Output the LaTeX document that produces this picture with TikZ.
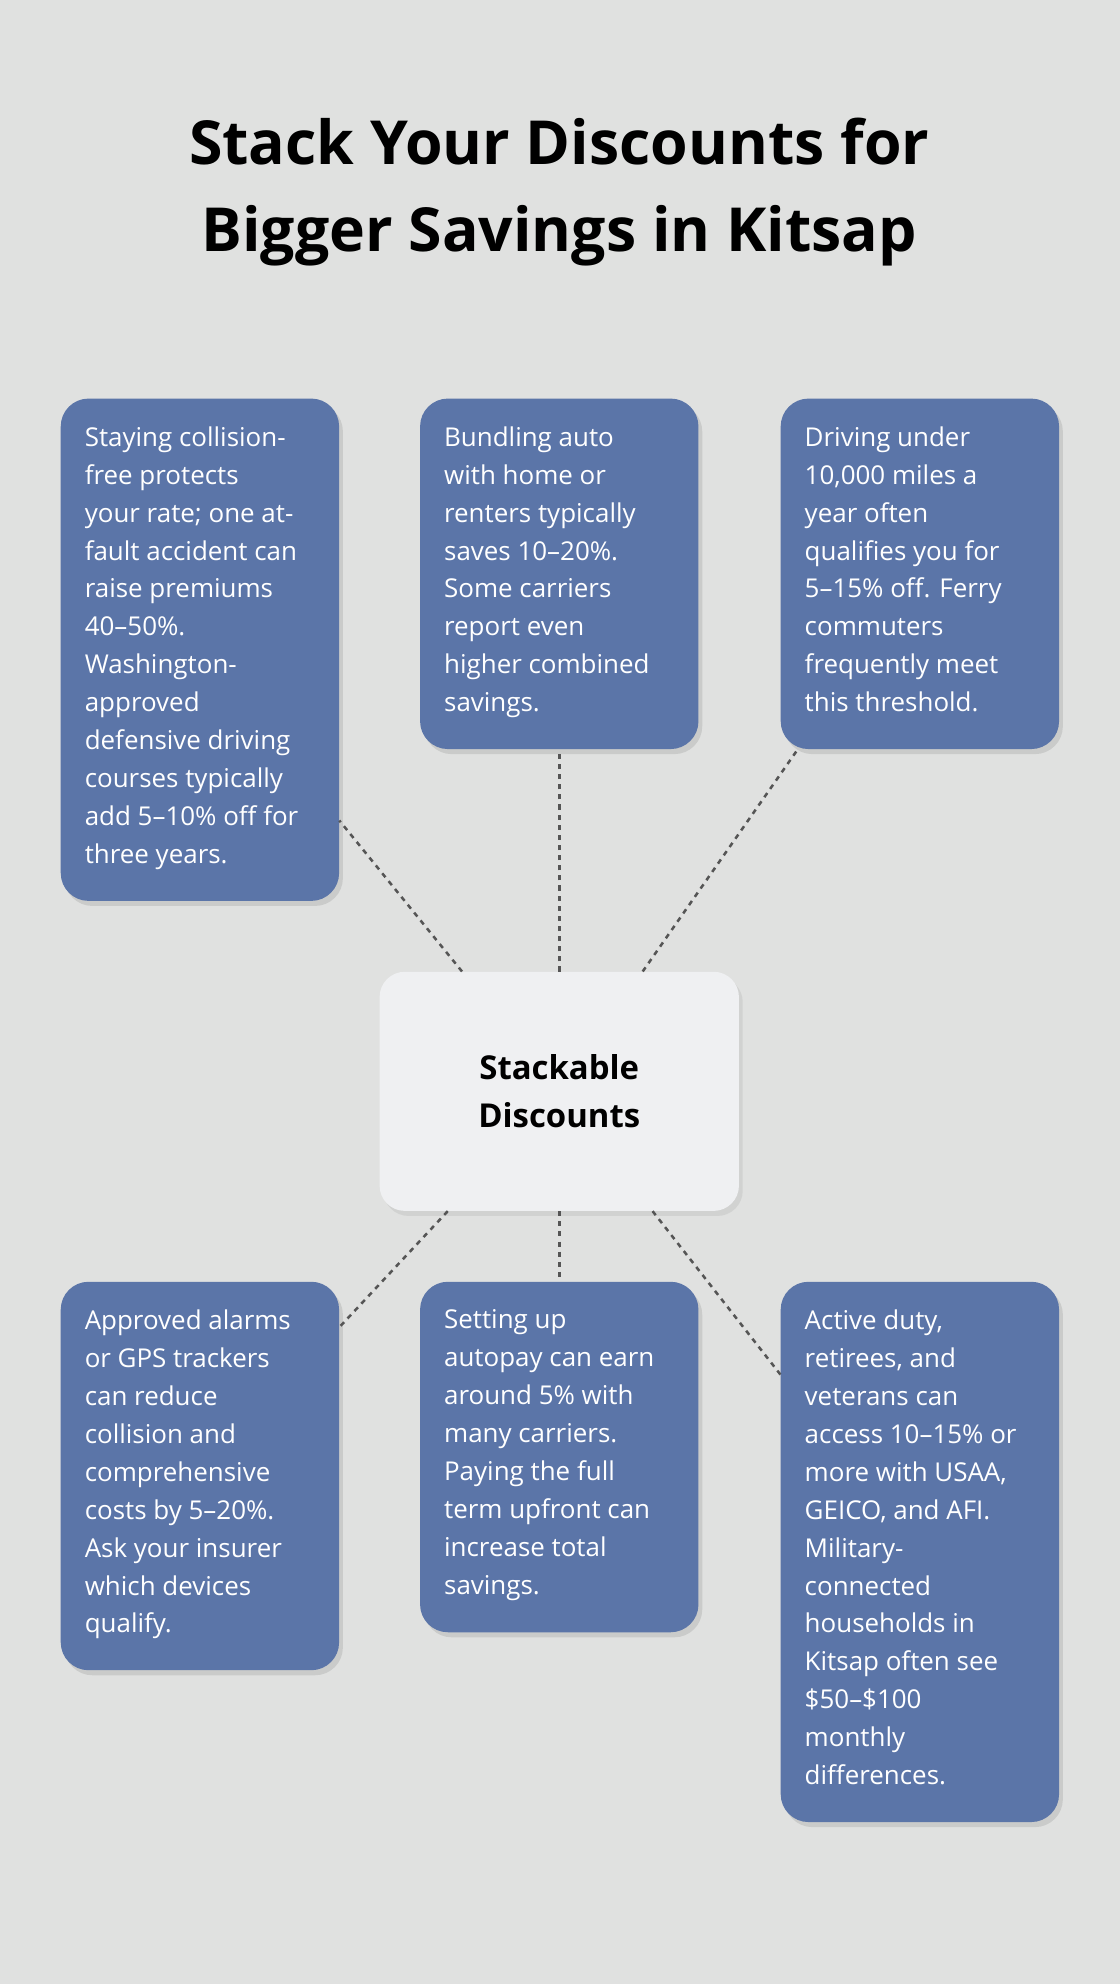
\documentclass[tikz,border=0pt]{standalone}
\usepackage{fontspec}
\setmainfont{Open Sans}
\usetikzlibrary{shadows}
\definecolor{bg}{HTML}{E0E1E0}
\definecolor{boxc}{HTML}{5B75A8}
\definecolor{cen}{HTML}{EFF0F2}
\definecolor{lnc}{HTML}{555555}
\tikzset{
 card/.style={fill=boxc, rounded corners=22pt, draw=none, minimum width=220pt, inner sep=0pt,
   drop shadow={opacity=0.22, shadow xshift=3pt, shadow yshift=-4pt}},
 ctext/.style={anchor=north west, inner sep=0pt, align=left, text=white, font=\fontsize{20.5}{30}\selectfont},
 conn/.style={draw=lnc, line width=2pt, dash pattern=on 4pt off 4pt},
}
\begin{document}
\begin{tikzpicture}[x=1pt,y=-1pt]
\fill[bg] (0,0) rectangle (885,1568);
\useasboundingbox (0,0) rectangle (885,1568);
\node[font=\fontsize{48}{69}\selectfont\bfseries, align=center] (title) at (442,152) {Stack Your Discounts for\\Bigger Savings in Kitsap};
% boxes
\node[card, minimum height=397pt] (b1) at (158,513.5) {};
\node[card, minimum height=277pt] (b2) at (442,453.5) {};
\node[card, minimum height=277pt] (b3) at (727,453.5) {};
\node[card, minimum height=307pt] (b4) at (158,1166.5) {};
\node[card, minimum height=277pt] (b5) at (442,1151.5) {};
\node[card, minimum height=427pt] (b6) at (727,1226.5) {};
\node[fill=cen, rounded corners=20pt, minimum width=284pt, minimum height=189pt, inner sep=0pt,
  drop shadow={opacity=0.15, shadow xshift=3pt, shadow yshift=-4pt}] (c) at (442,862.5) {};
\node[font=\fontsize{26}{38}\selectfont\bfseries, align=center] (ct) at (c) {Stackable\\Discounts};
% connectors
\foreach \b in {b1,b2,b3,b4,b5,b6} \path[conn] (c) -- (\b);
% texts
\node[ctext] (t1) at ([xshift=19pt,yshift=-22pt]b1.north west) {Staying collision-\\free protects\\your rate; one at-\\fault accident can\\raise premiums\\40–50\%.\\Washington-\\approved\\defensive driving\\courses typically\\add 5–10\% off for\\three years.};
\node[ctext] (t2) at ([xshift=19pt,yshift=-22pt]b2.north west) {Bundling auto\\with home or\\renters typically\\saves 10–20\%.\\Some carriers\\report even\\higher combined\\savings.};
\node[ctext] (t3) at ([xshift=19pt,yshift=-22pt]b3.north west) {Driving under\\10,000 miles a\\year often\\qualifies you for\\5–15\% off. Ferry\\commuters\\frequently meet\\this threshold.};
\node[ctext] (t4) at ([xshift=19pt,yshift=-22pt]b4.north west) {Approved alarms\\or GPS trackers\\can reduce\\collision and\\comprehensive\\costs by 5–20\%.\\Ask your insurer\\which devices\\qualify.};
\node[ctext] (t5) at ([xshift=19pt,yshift=-22pt]b5.north west) {Setting up\\autopay can earn\\around 5\% with\\many carriers.\\Paying the full\\term upfront can\\increase total\\savings.};
\node[ctext] (t6) at ([xshift=19pt,yshift=-22pt]b6.north west) {Active duty,\\retirees, and\\veterans can\\access 10–15\% or\\more with USAA,\\GEICO, and AFI.\\Military-\\connected\\households in\\Kitsap often see\\\$50–\$100\\monthly\\differences.};
\end{tikzpicture}
\end{document}
